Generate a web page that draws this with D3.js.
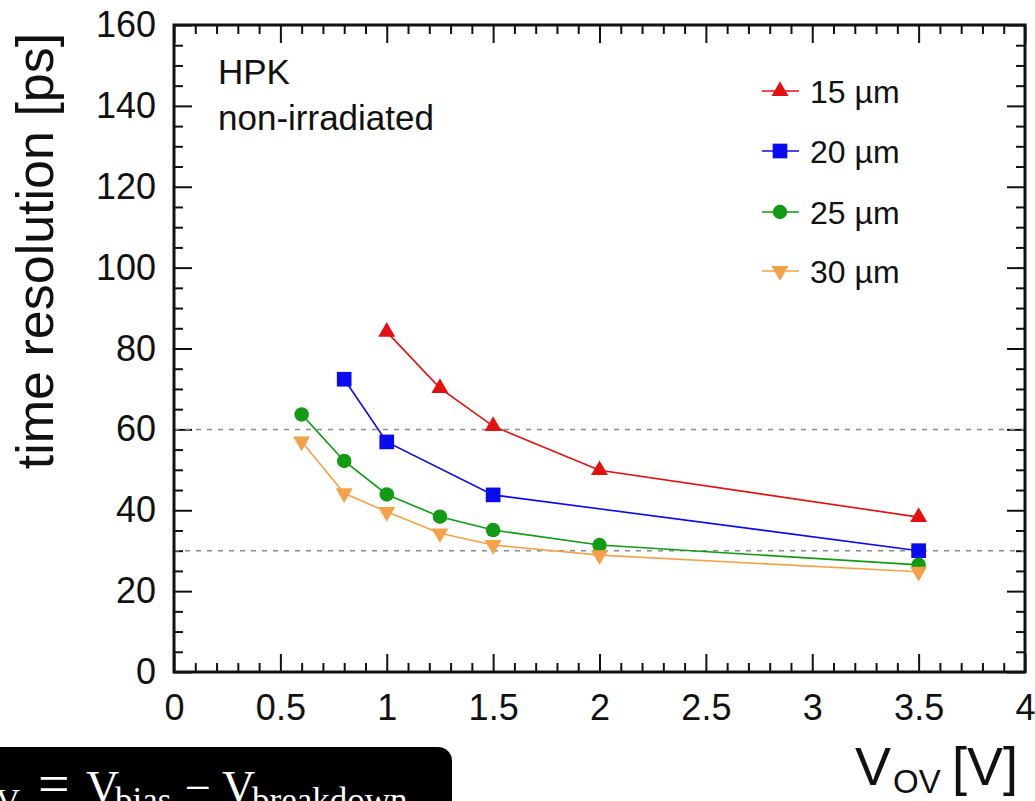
<!DOCTYPE html>
<html>
<head>
<meta charset="utf-8">
<script src="https://cdn.jsdelivr.net/npm/d3@7"></script>
<style>
  html, body { margin: 0; padding: 0; background: #ffffff; overflow: hidden; }
  svg { display: block; }
</style>
</head>
<body>
<svg id="chart" width="1035" height="801"></svg>
<script>
// ---------------- data ----------------
const seriesNames = ["15 µm", "20 µm", "25 µm", "30 µm"];
const vov15 = [1.0, 1.25, 1.5, 2.0, 3.5];
const res15 = [84.1, 70.2, 60.8, 49.9, 38.3];
const vov20 = [0.8, 1.0, 1.5, 3.5];
const res20 = [72.4, 56.9, 43.8, 30.0];
const vov25 = [0.6, 0.8, 1.0, 1.25, 1.5, 2.0, 3.5];
const res25 = [63.7, 52.2, 43.9, 38.4, 35.1, 31.4, 26.5];
const vov30 = [0.6, 0.8, 1.0, 1.25, 1.5, 2.0, 3.5];
const res30 = [57.0, 44.2, 39.6, 34.3, 31.4, 28.9, 24.8];
const referenceLines = [60, 30];
const xTickLabels = ["0", "0.5", "1", "1.5", "2", "2.5", "3", "3.5", "4"];
const xTickValues = [0, 0.5, 1, 1.5, 2, 2.5, 3, 3.5, 4];
const yTickLabels = ["0", "20", "40", "60", "80", "100", "120", "140", "160"];
const yTickValues = [0, 20, 40, 60, 80, 100, 120, 140, 160];

// ---------------- styles ----------------
const colors = ["#e21010", "#0a0af0", "#139a13", "#f4a24a"];
const markerTypes = ["triUp", "square", "circle", "triDown"];
const series = [
  { name: seriesNames[0], x: vov15, y: res15 },
  { name: seriesNames[1], x: vov20, y: res20 },
  { name: seriesNames[2], x: vov25, y: res25 },
  { name: seriesNames[3], x: vov30, y: res30 }
];

const svg = d3.select("#chart");
const L = 174, R = 1025, T = 25, B = 672;
const x = d3.scaleLinear().domain([0, 4]).range([L, R]);
const y = d3.scaleLinear().domain([0, 160]).range([B, T]);
const sans = "'Liberation Sans', Arial, Helvetica, sans-serif";
const serif = "'Liberation Serif', 'Times New Roman', serif";

function symbolPath(type) {
  if (type === "triUp" || type === "triDown") return d3.symbol(d3.symbolTriangle, 125)();
  if (type === "square") return d3.symbol(d3.symbolSquare, 215)();
  return d3.symbol(d3.symbolCircle, 165)();
}
function symbolTransform(type, px, py) {
  return type === "triDown" ? `translate(${px},${py}) rotate(180)` : `translate(${px},${py})`;
}

// ---------------- axes ----------------
const xMinor = d3.range(0, 4.0001, 0.1).map(v => +v.toFixed(2)).filter(v => !xTickValues.includes(v));
const yMinor = d3.range(0, 160.001, 5).filter(v => !yTickValues.includes(v));

function styleAxis(g) {
  g.select(".domain").remove();
  g.selectAll(".tick line").attr("stroke", "#111").attr("stroke-width", 2);
}

// bottom
svg.append("g").attr("transform", `translate(0,${B})`)
  .call(d3.axisBottom(x).tickValues(xTickValues).tickFormat((d, i) => xTickLabels[i]).tickSize(-18).tickPadding(22).tickSizeOuter(0))
  .call(styleAxis)
  .call(g => g.selectAll("text").attr("font-family", sans).attr("font-size", 36).attr("fill", "#111"));
svg.append("g").attr("transform", `translate(0,${B})`)
  .call(d3.axisBottom(x).tickValues(xMinor).tickFormat("").tickSize(-9).tickSizeOuter(0))
  .call(styleAxis);
// top
svg.append("g").attr("transform", `translate(0,${T})`)
  .call(d3.axisTop(x).tickValues(xTickValues).tickFormat("").tickSize(-18).tickSizeOuter(0))
  .call(styleAxis);
svg.append("g").attr("transform", `translate(0,${T})`)
  .call(d3.axisTop(x).tickValues(xMinor).tickFormat("").tickSize(-9).tickSizeOuter(0))
  .call(styleAxis);
// left
svg.append("g").attr("transform", `translate(${L},0)`)
  .call(d3.axisLeft(y).tickValues(yTickValues).tickFormat((d, i) => yTickLabels[i]).tickSize(-18).tickPadding(18).tickSizeOuter(0))
  .call(styleAxis)
  .call(g => g.selectAll("text").attr("font-family", sans).attr("font-size", 36).attr("fill", "#111"));
svg.append("g").attr("transform", `translate(${L},0)`)
  .call(d3.axisLeft(y).tickValues(yMinor).tickFormat("").tickSize(-9).tickSizeOuter(0))
  .call(styleAxis);
// right
svg.append("g").attr("transform", `translate(${R},0)`)
  .call(d3.axisRight(y).tickValues(yTickValues).tickFormat("").tickSize(-18).tickSizeOuter(0))
  .call(styleAxis);
svg.append("g").attr("transform", `translate(${R},0)`)
  .call(d3.axisRight(y).tickValues(yMinor).tickFormat("").tickSize(-9).tickSizeOuter(0))
  .call(styleAxis);

// reference dashed lines
svg.append("g").selectAll("line").data(referenceLines).join("line")
  .attr("x1", L).attr("x2", R)
  .attr("y1", d => y(d)).attr("y2", d => y(d))
  .attr("stroke", "#8a8a8a").attr("stroke-width", 1.5).attr("stroke-dasharray", "5,6");

// frame
svg.append("rect").attr("x", L).attr("y", T).attr("width", R - L).attr("height", B - T)
  .attr("fill", "none").attr("stroke", "#111").attr("stroke-width", 3);

// ---------------- series ----------------
const line = d3.line().x(d => x(d[0])).y(d => y(d[1]));
series.forEach((s, i) => {
  const pts = s.x.map((v, j) => [v, s.y[j]]);
  svg.append("path").attr("d", line(pts)).attr("fill", "none")
    .attr("stroke", colors[i]).attr("stroke-width", 1.6);
  svg.append("g").selectAll("path").data(pts).join("path")
    .attr("d", symbolPath(markerTypes[i]))
    .attr("transform", d => symbolTransform(markerTypes[i], x(d[0]), y(d[1])))
    .attr("fill", colors[i]);
});

// ---------------- legend ----------------
const legendBaselines = [103, 163, 224, 283];
series.forEach((s, i) => {
  const by = legendBaselines[i];
  const my = by - 12;
  svg.append("line").attr("x1", 762).attr("x2", 799).attr("y1", my).attr("y2", my)
    .attr("stroke", colors[i]).attr("stroke-width", 1.6);
  svg.append("path").attr("d", symbolPath(markerTypes[i]))
    .attr("transform", symbolTransform(markerTypes[i], 780, my)).attr("fill", colors[i]);
  svg.append("text").attr("x", 810).attr("y", by).attr("font-family", sans)
    .attr("font-size", 32).attr("fill", "#111").text(s.name);
});

// ---------------- labels ----------------
svg.append("text").attr("x", 218).attr("y", 84).attr("font-family", sans)
  .attr("font-size", 35).attr("fill", "#111").text("HPK");
svg.append("text").attr("x", 218).attr("y", 130).attr("font-family", sans)
  .attr("font-size", 35).attr("fill", "#111").text("non-irradiated");

svg.append("text").attr("transform", "translate(53,251) rotate(-90)")
  .attr("text-anchor", "middle").attr("font-family", sans).attr("font-size", 52)
  .attr("fill", "#111").text("time resolution [ps]");

const xt = svg.append("text").attr("font-family", sans).attr("fill", "#111");
xt.append("tspan").attr("x", 855).attr("y", 785).attr("font-size", 54).text("V");
xt.append("tspan").attr("x", 893).attr("y", 793).attr("font-size", 33).text("OV");
xt.append("tspan").attr("x", 952).attr("y", 785).attr("font-size", 54).text("[V]");

// ---------------- black formula box ----------------
svg.append("rect").attr("x", -20).attr("y", 747).attr("width", 472).attr("height", 90)
  .attr("rx", 14).attr("fill", "#000");
const ft = svg.append("text").attr("font-family", serif).attr("fill", "#fff");
ft.append("tspan").attr("x", -64).attr("y", 803).attr("font-size", 46).text("V");
ft.append("tspan").attr("x", -29).attr("y", 812).attr("font-size", 34).text("OV");
ft.append("tspan").attr("x", 38).attr("y", 803).attr("font-size", 56).text("=");
ft.append("tspan").attr("x", 86).attr("y", 803).attr("font-size", 46).text("V");
ft.append("tspan").attr("x", 115).attr("y", 812).attr("font-size", 35).text("bias");
ft.append("tspan").attr("x", 185).attr("y", 803).attr("font-size", 46).text("−");
ft.append("tspan").attr("x", 222).attr("y", 803).attr("font-size", 46).text("V");
ft.append("tspan").attr("x", 252).attr("y", 812).attr("font-size", 35).text("breakdown");
</script>
</body>
</html>
